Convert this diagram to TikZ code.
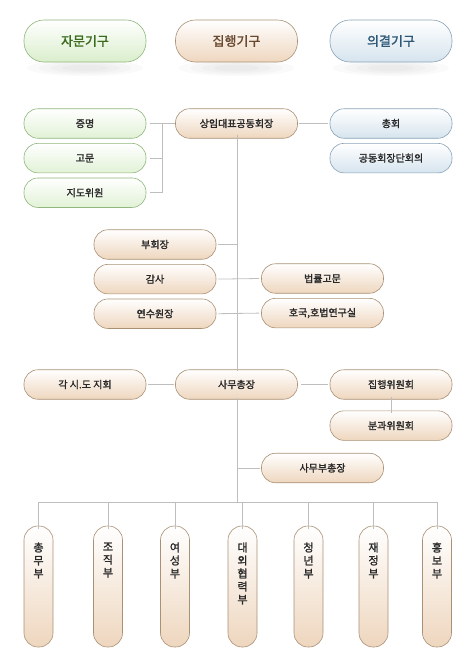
\documentclass[tikz,border=0pt]{standalone}
\usepackage{fontspec}
\usepackage{xcolor}
\usepackage{tikz}
\usetikzlibrary{positioning, calc}
\newfontfamily\kr{Noto Sans CJK KR}[AutoFakeBold=1.6]
\definecolor{mygreen}{RGB}{143,182,124}
\definecolor{mybrown}{RGB}{170,145,118}
\definecolor{myblue}{RGB}{138,162,183}
\definecolor{txtgreen}{RGB}{58,108,30}
\definecolor{txtbrown}{RGB}{104,72,46}
\definecolor{txtblue}{RGB}{46,88,118}
\definecolor{mytext}{RGB}{40,40,40}
\definecolor{hdrgreen}{RGB}{218,238,204}
\definecolor{hdrbrown}{RGB}{238,214,190}
\definecolor{hdrblue}{RGB}{214,228,238}
\definecolor{linegray}{RGB}{190,190,190}
\newcommand{\dept}[1]{\parbox[c][88pt][t]{16pt}{\centering #1}}
\tikzset{
  head/.style={rectangle, minimum width=122pt, minimum height=42pt,
    inner sep=0pt, rounded corners=20pt, line width=0.6pt,
    font=\kr\bfseries\fontsize{13}{15}\selectfont},
  greenhead/.style={head, draw=mygreen, top color=white, bottom color=hdrgreen, text=txtgreen},
  brownhead/.style={head, draw=mybrown, top color=white, bottom color=hdrbrown, text=txtbrown},
  bluehead/.style={head, draw=myblue, top color=white, bottom color=hdrblue, text=txtblue},
  block/.style={rectangle, minimum width=122pt, minimum height=29.5pt,
    inner sep=0pt, rounded corners=14pt, line width=0.6pt, text=mytext,
    font=\kr\bfseries\fontsize{10}{12}\selectfont},
  greenblock/.style={block, draw=mygreen, top color=white, bottom color=hdrgreen!80},
  brownblock/.style={block, draw=mybrown, top color=white, bottom color=hdrbrown},
  blueblock/.style={block, draw=myblue, top color=white, bottom color=hdrblue},
  deptblock/.style={rectangle, minimum width=29pt, minimum height=121pt,
    inner sep=0pt, rounded corners=14pt, line width=0.6pt, text=mytext,
    draw=mybrown, top color=white, bottom color=hdrbrown,
    font=\kr\bfseries\fontsize{11}{13}\selectfont},
  shade/.style={black, opacity=0.018},
  line/.style={linegray, line width=0.8pt}
}

\begin{document}
\begin{tikzpicture}[x=1pt, y=-1pt, node distance=4.5pt and 30pt]
  \useasboundingbox (0,0) rectangle (466,659);
  % heads
  \foreach \cx in {85,236.5,391}
    \foreach \s in {1,0.8,0.6,0.4}
      \fill[shade] (\cx,68) ellipse ({58*\s} and {8*\s});
  \node[greenhead] (advise) at (85,41) {자문기구};
  \node[brownhead] (exec) at (236.5,41) {집행기구};
  \node[bluehead] (decide) at (391,41) {의결기구};

  % top level
  \node[brownblock] (chair) at (236.5,123.5) {상임대표공동회장};
  \node[greenblock] (proof) at (85,123.5) {증명};
  \node[greenblock, below=of proof] (adv) {고문};
  \node[greenblock, below=of adv] (guide) {지도위원};
  \node[blueblock] (general) at (391,123.5) {총회};
  \node[blueblock, below=of general] (council) {공동회장단회의};

  % vice, audit
  \node[brownblock] (vice) at (155,244.5) {부회장};
  \node[brownblock, below=of vice] (audit) {감사};
  \node[brownblock, below=of audit] (train) {연수원장};
  \node[brownblock] (law) at (322.5,278.5) {법률고문};
  \node[brownblock, below=of law] (lab) {호국,호법연구실};

  % secretary
  \node[brownblock] (sec) at (236.5,384.5) {사무총장};
  \node[brownblock] (branch) at (85,384.5) {각 시.도 지회};
  \node[brownblock] (excom) at (391,384.5) {집행위원회};
  \node[brownblock, below=11pt of excom] (subcom) {분과위원회};
  \node[brownblock] (dsec) at (322.5,468) {사무부총장};

  % departments
  \foreach \i/\x/\t in {1/38.5/총\\무\\부, 2/108/조\\직\\부, 3/175/여\\성\\부,
      4/242.5/대\\외\\협\\력\\부, 5/308.5/청\\년\\부, 6/373.5/재\\정\\부, 7/437/홍\\보\\부}
    \node[deptblock] (d\i) at (\x,586.5) {\dept{\t}};

  % connectors
  \coordinate (jn) at (162,123.5);
  \coordinate (bus) at (237.5,502);
  \draw[line] ([xshift=4pt]proof.east) -- (chair.west);
  \draw[line] (jn) -- (jn |- guide.east);
  \draw[line] ([xshift=4pt]adv.east) -- (jn |- adv.east);
  \draw[line] ([xshift=4pt]guide.east) -- (jn |- guide.east);
  \draw[line] ([xshift=1pt]chair.east) -- ([xshift=-2pt]general.west);
  \draw[line] ([yshift=4pt]chair.south -| bus) -- ([yshift=-2pt]sec.north -| bus);
  \draw[line] ([xshift=2pt]vice.east) -- (vice.east -| bus);
  \draw[line] ([xshift=2pt]audit.east) -- ([xshift=-2pt]law.west);
  \draw[line] ([xshift=2pt]train.east) -- ([xshift=-2pt]lab.west);
  \draw[line] ([xshift=2pt]branch.east) -- ([xshift=-1pt]sec.west);
  \draw[line] ([xshift=3pt]sec.east) -- ([xshift=-2pt]excom.west);
  \draw[line] ([yshift=3pt]excom.south) -- ([yshift=-2pt]subcom.north);
  \draw[line] ([yshift=2pt]sec.south -| bus) -- (bus);
  \draw[line] ([xshift=-1pt]dsec.west) -- (dsec.west -| bus);
  \draw[line] (d1.north |- bus) -- (d7.north |- bus);
  \foreach \i in {1,...,7}
    \draw[line] (d\i.north |- bus) -- ([yshift=-3pt]d\i.north);
\end{tikzpicture}
\end{document}
